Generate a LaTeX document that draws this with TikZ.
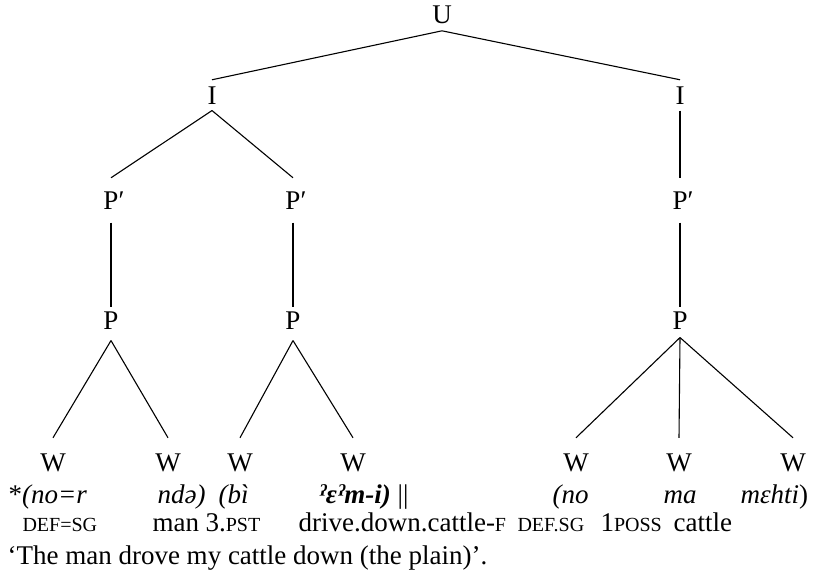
\documentclass[tikz,border=0pt]{standalone}
\usepackage{fontspec}
\setmainfont{Liberation Serif}
\newcommand{\smc}[1]{{\fontsize{20}{22}\selectfont #1}}
\begin{document}
\begin{tikzpicture}[x=1pt, y=-1pt, font=\fontsize{27}{32}\selectfont, line width=1.1pt,
  cat/.style={anchor=base, inner sep=6pt},
  wrd/.style={anchor=base west, inner sep=0pt}]
\useasboundingbox (0,0) rectangle (832,578);
\node[cat] (nid0) at (442,24){U};
\node[cat] (nid1) at (212,104){I};
\node[cat] (nid2) at (680,104){I};
\draw[](nid0.south) -- (nid1.north);
\draw[](nid0.south) -- (nid2.north);
\node[cat, inner sep=13pt] (nid3) at (111,209){P\rlap{′}};
\node[cat, inner sep=13pt] (nid4) at (293,209){P\rlap{′}};
\node[cat, inner sep=13pt] (nid5) at (680,209){P\rlap{′}};
\draw[](nid1.south) -- (nid3.north);
\draw[](nid1.south) -- (nid4.north);
\draw[](nid2) -- (nid5);
\node[cat, inner sep=4pt, text depth=7pt] (nid6) at (111,329){P};
\node[cat, inner sep=4pt, text depth=7pt] (nid7) at (293,329){P};
\node[cat, inner sep=4pt, text depth=4pt] (nid8) at (680,329){P};
\draw[](nid3) -- (nid6);
\draw[](nid4) -- (nid7);
\draw[](nid5) -- (nid8);
\node[cat, inner sep=15pt] (nid9) at (53,471){W};
\node[cat, inner sep=15pt] (nid10) at (168,471){W};
\node[cat, inner sep=15pt] (nid11) at (240,471){W};
\node[cat, inner sep=15pt] (nid12) at (353,471){W};
\node[cat, inner sep=15pt] (nid13) at (576,471){W};
\node[cat, inner sep=15pt] (nid14) at (679,471){W};
\node[cat, inner sep=15pt] (nid15) at (793,471){W};
\draw[](nid6.south) -- (nid9.north);
\draw[](nid6.south) -- (nid10.north);
\draw[](nid7.south) -- (nid11.north);
\draw[](nid7.south) -- (nid12.north);
\draw[](nid8.south) -- (nid13.north);
\draw[](nid8.south) -- (nid14.north);
\draw[](nid8.south) -- (nid15.north);

% object words
\node[wrd] (obj1) at (8,503){*\textit{(no=r}};
\node[wrd] (obj2) at (157,503){\textit{ndə)}};
\node[wrd] (obj3) at (218,503){\textit{(bì}};
\node[wrd] (obj4) at (318,503){\textbf{\textit{ˀɛˀm-i)}} ||};
\node[wrd] (obj5) at (552,503){\textit{(no}};
\node[wrd] (obj6) at (663,503){\textit{ma}};
\node[wrd] (obj7) at (740,503){\textit{mɛhti})};
% glosses
\node[wrd] (gls1) at (22,531){\smc{DEF=SG}};
\node[wrd] (gls2) at (152,531){man};
\node[wrd] (gls3) at (205,531){3.\smc{PST}};
\node[wrd] (gls4) at (298,531){drive.down.cattle-\smc{F}};
\node[wrd] (gls5) at (517,531){\smc{DEF.SG}};
\node[wrd] (gls6) at (600,531){1\smc{POSS}};
\node[wrd] (gls7) at (673,531){cattle};
\node[wrd] (trans) at (7,564){‘The man drove my cattle down (the plain)’.};
\end{tikzpicture}
\end{document}
